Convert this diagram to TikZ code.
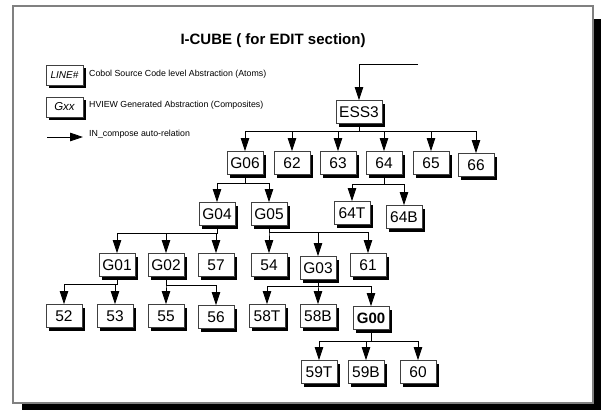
\documentclass[tikz,border=0pt]{standalone}
\usepackage{fontspec}
\setmainfont{Liberation Sans}
\usetikzlibrary{arrows.meta,shadows}

\begin{document}
\begin{tikzpicture}[x=1pt,y=-1pt,
  box/.style={draw=black!75, line width=0.8pt, fill=white,
    minimum width=36pt, minimum height=23pt, inner sep=1pt,
    font=\fontsize{15.5}{15.5}\selectfont,
    drop shadow={shadow xshift=3pt, shadow yshift=-3pt, fill=black, opacity=1}},
  legbox/.style={box, minimum width=37pt, minimum height=20pt},
  link/.style={line width=0.8pt, -{Triangle[length=13pt,width=8.5pt]}},
  note/.style={anchor=west, font=\fontsize{8.8}{8.8}\selectfont, inner sep=0pt},
]
\useasboundingbox (0,0) rectangle (601,410);

% page frame with its heavy shadow
\fill[black] (22,19) rectangle (601,410);
\draw[fill=white, draw=black!50, line width=1.5pt] (13,6) rectangle (593,403);

% title
\node[font=\bfseries\fontsize{15}{15}\selectfont] (title) at (273,41) {I-CUBE ( for EDIT section)};

% legend
\node[legbox, font=\itshape\fontsize{10}{10}\selectfont] (lline) at (64.5,75) {LINE\#};
\node[note] (tline) at (89,74) {Cobol Source Code level Abstraction (Atoms)};
\node[legbox, font=\itshape\fontsize{11.5}{11.5}\selectfont] (lgxx) at (64.5,107) {Gxx};
\node[note] (tgxx) at (89,105) {HVIEW Generated Abstraction (Composites)};
\coordinate (la) at (47,137);
\coordinate (lb) at (83,137);
\draw[link] (la) -- (lb);
\node[note] (tarr) at (89,134) {IN\_compose auto-relation};

% tree nodes
\node[box, minimum width=46pt] (ess) at (359,112) {ESS3};

\node[box] (g06) at (245,163) {G06};
\node[box] (n62) at (292,163) {62};
\node[box] (n63) at (338,163) {63};
\node[box] (n64) at (384,163) {64};
\node[box] (n65) at (431,163) {65};
\node[box] (n66) at (476,165) {66};

\node[box] (g04) at (217,214) {G04};
\node[box] (g05) at (269,214) {G05};
\node[box] (n64t) at (352,213) {64T};
\node[box] (n64b) at (404,217) {64B};

\node[box] (g01) at (117,265) {G01};
\node[box] (g02) at (166,265) {G02};
\node[box] (n57) at (216,265) {57};
\node[box] (n54) at (269,265) {54};
\node[box] (g03) at (318,268) {G03};
\node[box] (n61) at (368,265) {61};

\node[box] (n52) at (64,316) {52};
\node[box] (n53) at (115,316) {53};
\node[box] (n55) at (166,316) {55};
\node[box] (n56) at (216,317) {56};
\node[box] (n58t) at (267,316) {58T};
\node[box] (n58b) at (318,316) {58B};
\node[box, font=\bfseries\fontsize{15}{15}\selectfont] (g00) at (371,318) {G00};

\node[box] (n59t) at (319,372) {59T};
\node[box] (n59b) at (366,372) {59B};
\node[box] (n60) at (418,372) {60};

% incoming relation
\coordinate (in) at (418,64);
\draw[link] (in) -| (ess.north);

% bus levels of the composition arrows
\coordinate (bEss) at (0,131);
\coordinate (bG06) at (0,183);
\coordinate (b64) at (0,184);
\coordinate (bG04) at (0,233);
\coordinate (bG05) at (0,232);
\coordinate (bG01) at (0,284);
\coordinate (bG02) at (0,285);
\coordinate (bG03) at (0,286);
\coordinate (bG00) at (0,341);

\foreach \c in {g06,n62,n63,n64,n65,n66}
  \draw[link] (ess.south) -- (ess.south |- bEss) -| (\c.north);
\foreach \c in {g04,g05}
  \draw[link] (g06.south) -- (g06.south |- bG06) -| (\c.north);
\foreach \c in {n64t,n64b}
  \draw[link] (n64.south) -- (n64.south |- b64) -| (\c.north);
\foreach \c in {g01,g02,n57}
  \draw[link] (g04.south) -- (g04.south |- bG04) -| (\c.north);
\foreach \c in {n54,g03,n61}
  \draw[link] (g05.south) -- (g05.south |- bG05) -| (\c.north);
\foreach \c in {n52,n53}
  \draw[link] (g01.south) -- (g01.south |- bG01) -| (\c.north);
\foreach \c in {n55,n56}
  \draw[link] (g02.south) -- (g02.south |- bG02) -| (\c.north);
\foreach \c in {n58t,n58b,g00}
  \draw[link] (g03.south) -- (g03.south |- bG03) -| (\c.north);
\foreach \c in {n59t,n59b,n60}
  \draw[link] (g00.south) -- (g00.south |- bG00) -| (\c.north);
\end{tikzpicture}
\end{document}
